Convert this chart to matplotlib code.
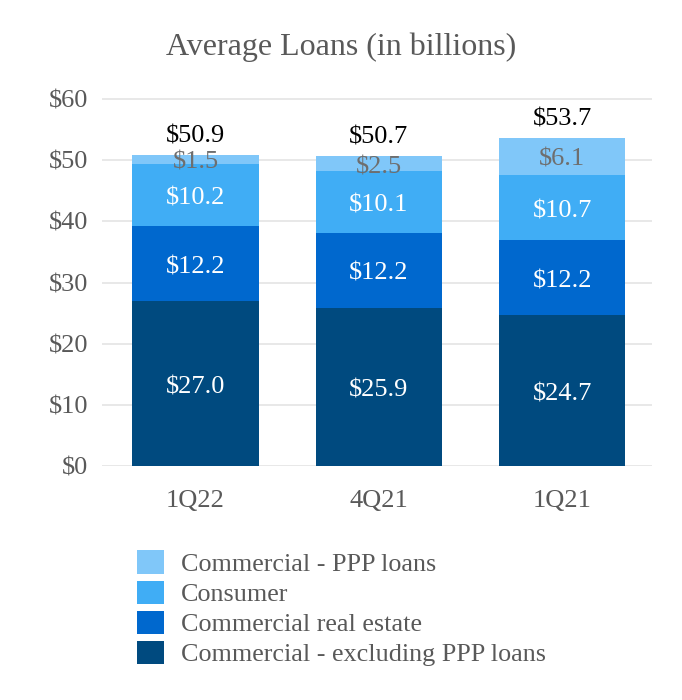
import matplotlib
matplotlib.use("Agg")
import matplotlib.pyplot as plt
from matplotlib.patches import Patch
import numpy as np

plt.rcParams['font.family'] = ['Liberation Serif', 'DejaVu Serif']

quarters = ["1Q22", "4Q21", "1Q21"]
commercial_ex_ppp = [27.0, 25.9, 24.7]
commercial_re = [12.2, 12.2, 12.2]
consumer = [10.2, 10.1, 10.7]
commercial_ppp = [1.5, 2.5, 6.1]
totals = [50.9, 50.7, 53.7]

series = [
    ("Commercial - excluding PPP loans", commercial_ex_ppp, "#004A7F", "white"),
    ("Commercial real estate", commercial_re, "#0068CE", "white"),
    ("Consumer", consumer, "#40ADF5", "white"),
    ("Commercial - PPP loans", commercial_ppp, "#80C7F9", "#6E6E6E"),
]

fig = plt.figure(figsize=(6.82, 7.0), dpi=100)
ax = fig.add_axes([102 / 682, 1 - 466 / 700, 550 / 682, (466 - 88) / 700])

x = np.arange(len(quarters))
bottom = np.zeros(len(quarters))
for name, vals, color, tcolor in series:
    vals = np.array(vals)
    ax.bar(x, vals, bottom=bottom, width=0.69, color=color, zorder=3)
    for xi, b, v in zip(x, bottom, vals):
        ax.text(xi, b + v / 2 - 0.6, f"${v:.1f}", ha="center", va="center",
                fontsize=19, color=tcolor, zorder=4)
    bottom += vals

for xi, t in zip(x, totals):
    ax.text(xi, t + 3.0, f"${t:.1f}", ha="center", va="center",
            fontsize=19, color="black", zorder=4)

ax.set_xlim(-0.51, 2.49)
ax.set_ylim(0, 61.8)
ax.set_yticks(range(0, 61, 10))
ax.set_yticklabels([f"${v}" for v in range(0, 61, 10)])
ax.set_xticks(x)
ax.set_xticklabels(quarters)
ax.tick_params(axis="both", length=0, labelsize=19, colors="#595959")
ax.tick_params(axis="y", pad=10)
ax.tick_params(axis="x", pad=17)
ax.grid(axis="y", color="#E6E6E6", linewidth=1.3, zorder=0)
for s in ax.spines.values():
    s.set_visible(False)

fig.text(0.5, 1 - 47 / 700, "Average Loans (in billions)", ha="center",
         va="center", fontsize=23, color="#595959")

handles = [Patch(facecolor=c, label=n) for n, _, c, _ in reversed(series)]
fig.legend(handles=handles, loc="upper left",
           bbox_to_anchor=(127 / 682, 1 - 540 / 700), frameon=False,
           fontsize=18.8, labelcolor="#595959", handlelength=1.0,
           handleheight=1.0, handletextpad=0.65, labelspacing=0.17,
           borderaxespad=0)

fig.savefig("out.png", dpi=100, facecolor="white")
